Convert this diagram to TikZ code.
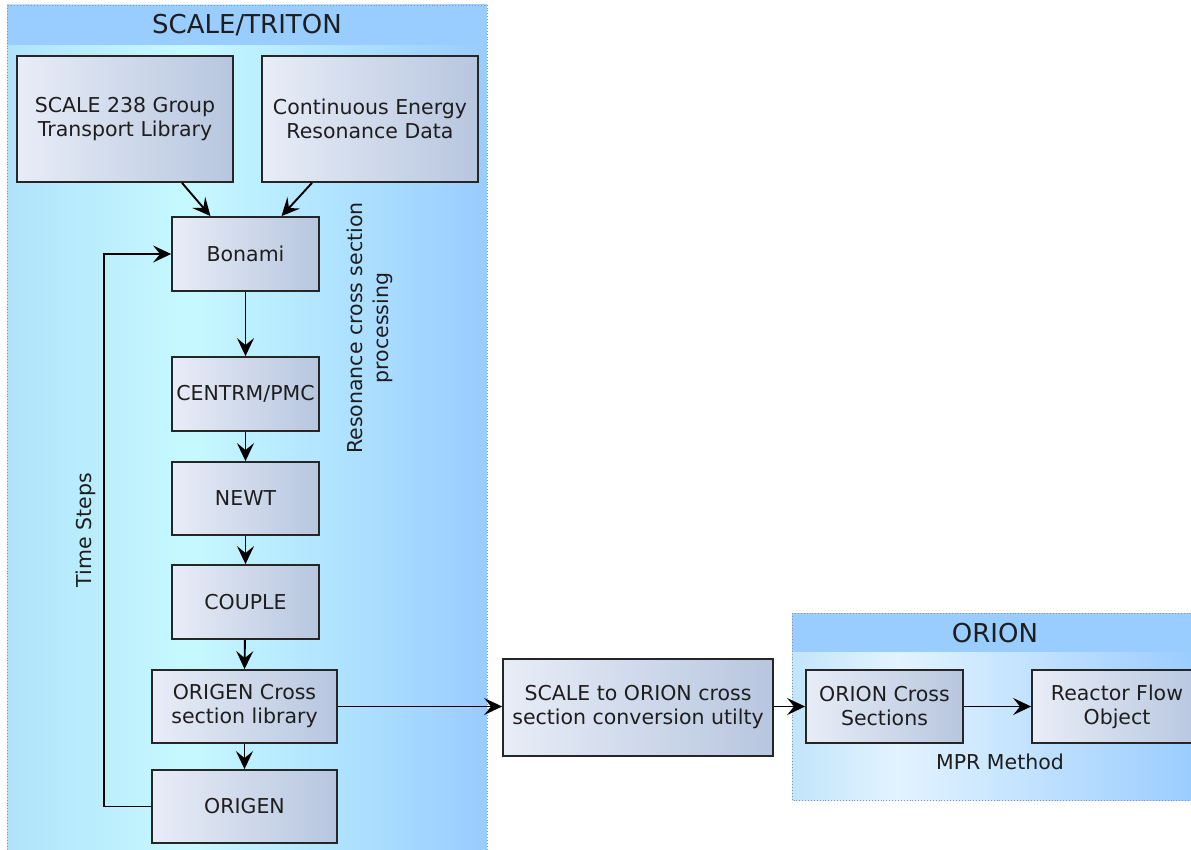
\documentclass[tikz,border=0pt]{standalone}
\usepackage{fontspec}
\setmainfont{DejaVu Sans}
\usetikzlibrary{arrows.meta,calc}
\definecolor{hdr}{HTML}{99CCFF}
\definecolor{sa}{HTML}{B0E3FA}
\definecolor{sb}{HTML}{C6F9FF}
\definecolor{oa}{HTML}{C2E5FA}
\definecolor{ob}{HTML}{E2F3FF}
\definecolor{boxa}{HTML}{E8EDF7}
\definecolor{boxb}{HTML}{B7C6DF}
\definecolor{txt}{HTML}{1E1E1E}
\definecolor{dotc}{HTML}{9090B0}
\pgfdeclarehorizontalshading{scalebg}{100bp}{color(0bp)=(sa); color(25bp)=(sa); color(44bp)=(sb); color(75bp)=(hdr); color(100bp)=(hdr)}
\pgfdeclarehorizontalshading{orionbg}{100bp}{color(0bp)=(oa); color(25bp)=(oa); color(38bp)=(ob); color(75bp)=(hdr); color(100bp)=(hdr)}
\tikzset{
  box/.style={draw=black!85, line width=1.8pt, left color=boxa, right color=boxb,
    inner sep=0pt, align=center, text=txt, font=\fontsize{20.5}{24}\selectfont},
  lbl/.style={text=txt, align=center, font=\fontsize{20.5}{26}\selectfont, inner sep=0pt},
  ttl/.style={text=txt, font=\fontsize{26}{30}\selectfont, inner sep=0pt},
  arr/.style={draw=black, line width=1.9pt, -{Stealth[length=18pt,width=17pt,inset=7pt]}},
  frame/.style={draw=dotc, line width=0.9pt, dotted}
}
\begin{document}
\begin{tikzpicture}[x=1pt,y=-1pt]
\useasboundingbox (0,0) rectangle (1191,850);
\clip (0,0) rectangle (1191,850);
% SCALE/TRITON container
\shade[shading=scalebg] (7,5) rectangle (487,860);
\fill[hdr] (7,5) rectangle (487,45);
\draw[frame] (7,5) rectangle (487,860);
\node[ttl] (tscale) at (247,25) {SCALE/TRITON};
% ORION container
\shade[shading=orionbg] (792,613) rectangle (1200,800);
\fill[hdr] (792,613) rectangle (1200,652);
\draw[frame] (792,613) rectangle (1200,800);
\node[ttl] (torion) at (995,633) {ORION};
% boxes
\node[box, minimum width=216pt, minimum height=126pt] (s238) at (125,119) {SCALE 238 Group\\Transport Library};
\node[box, minimum width=216pt, minimum height=126pt] (ced) at (370,119) {Continuous Energy\\Resonance Data};
\node[box, minimum width=147pt, minimum height=74pt] (bon) at (245.5,254) {Bonami};
\node[box, minimum width=147pt, minimum height=74pt] (cen) at (245.5,394) {CENTRM/PMC};
\node[box, minimum width=147pt, minimum height=73pt] (newt) at (245.5,498.5) {NEWT};
\node[box, minimum width=147pt, minimum height=74pt] (couple) at (245.5,602) {COUPLE};
\node[box, minimum width=185pt, minimum height=73pt] (oxs) at (244.5,706.5) {ORIGEN Cross\\section library};
\node[box, minimum width=185pt, minimum height=73pt] (origen) at (244.5,806.5) {ORIGEN};
\node[box, minimum width=270pt, minimum height=97pt] (conv) at (638,707.5) {SCALE to ORION cross\\section conversion utilty};
\node[box, minimum width=157pt, minimum height=73pt] (ocs) at (884.5,706.5) {ORION Cross\\Sections};
\node[box, minimum width=170pt, minimum height=73pt] (rfo) at (1117,706.5) {Reactor Flow\\Object};
% labels
\node[lbl, rotate=90] (res) at (370,328) {Resonance cross section\\processing};
\node[lbl, rotate=90] (ts) at (86,530) {Time Steps};
\node[lbl] (mpr) at (1000,762) {MPR Method};
% connectors
\draw[arr] ($(s238.south)+(57,0)$) -- ($(bon.north)+(-35,0)$);
\draw[arr] ($(ced.south)+(-58,0)$) -- ($(bon.north)+(36,0)$);
\draw[arr] (bon) -- (cen);
\draw[arr] (cen) -- (newt);
\draw[arr] (newt) -- (couple);
\draw[arr] (couple) -- (oxs.north);
\draw[arr] (oxs) -- (origen);
\draw[arr] (origen.west) -- ++(-47,0) |- (bon.west);
\draw[arr] (oxs.east) -- (oxs.east -| conv.west);
\draw[arr] (conv.east |- ocs.west) -- (ocs.west);
\draw[arr] (ocs) -- (rfo);
\end{tikzpicture}
\end{document}
